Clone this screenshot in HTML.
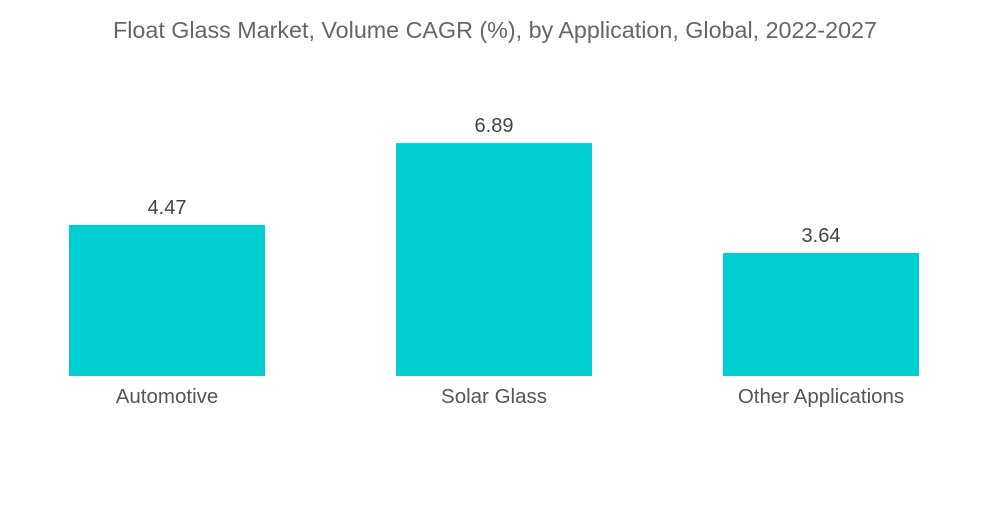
<!DOCTYPE html>
<html>
<head>
<meta charset="utf-8">
<style>
  html,body{margin:0;padding:0;background:#fff;}
  body{width:1000px;height:504px;overflow:hidden;font-family:"Liberation Sans",sans-serif;}
</style>
</head>
<body>
<svg id="chart" width="1000" height="504" viewBox="0 0 1000 504" xmlns="http://www.w3.org/2000/svg">
  <text x="495" y="38" text-anchor="middle" font-family="Liberation Sans, sans-serif" font-size="23.3" fill="#666">Float Glass Market, Volume CAGR (%), by Application, Global, 2022-2027</text>
  <g id="bars"></g>
</svg>
<script>
const categories = ["Automotive", "Solar Glass", "Other Applications"];
const values = [4.47, 6.89, 3.64];
const valueLabels = ["4.47", "6.89", "3.64"];

const baseline = 376, pxPerUnit = 33.8;
const barLeft0 = 69, barStep = 327, barW = 196;
function yScale(v){ return baseline - v * pxPerUnit; }
function xScale(i){ return barLeft0 + i * barStep; }

const ns = "http://www.w3.org/2000/svg";
const g = document.getElementById("bars");
categories.forEach((c, i) => {
  const x = xScale(i), y = yScale(values[i]);
  const r = document.createElementNS(ns, "rect");
  
  
  r.setAttribute("x", x); r.setAttribute("y", y);
  r.setAttribute("width", barW); r.setAttribute("height", baseline - y);
  r.setAttribute("fill", "#00CED1");
  g.appendChild(r);

  const t = document.createElementNS(ns, "text");
  
  
  t.setAttribute("x", x + barW / 2); t.setAttribute("y", y - 11);
  t.setAttribute("text-anchor", "middle");
  t.setAttribute("font-size", "20"); t.setAttribute("fill", "#444");
  t.setAttribute("font-family", "Liberation Sans, sans-serif");
  t.textContent = valueLabels[i];
  g.appendChild(t);

  const l = document.createElementNS(ns, "text");
  
  
  l.setAttribute("x", x + barW / 2); l.setAttribute("y", 403);
  l.setAttribute("text-anchor", "middle");
  l.setAttribute("font-size", "20.5"); l.setAttribute("fill", "#555");
  l.setAttribute("font-family", "Liberation Sans, sans-serif");
  l.textContent = c;
  g.appendChild(l);
});
</script>
</body>
</html>
